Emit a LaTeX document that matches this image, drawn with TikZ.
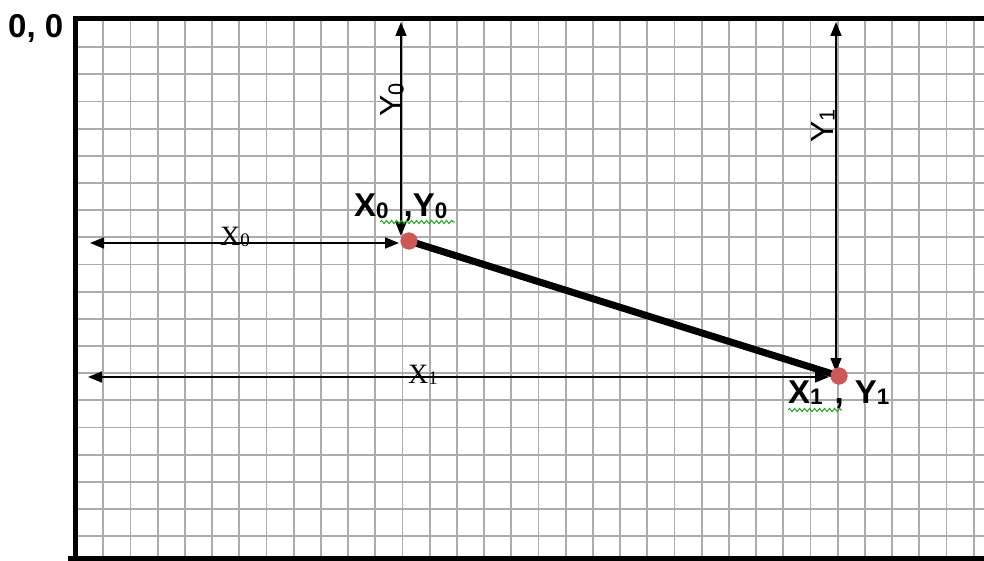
\documentclass[tikz,border=0pt]{standalone}
\usepackage{fontspec}
\usepackage{graphicx}
\setmainfont{Liberation Serif}
\setsansfont{Liberation Sans}
\usetikzlibrary{arrows.meta,decorations.pathmorphing}
\definecolor{gridgray}{RGB}{172,172,172}
\definecolor{dotred}{RGB}{205,88,88}
\definecolor{wavegreen}{RGB}{40,160,40}
\newcommand\sbs[1]{\raisebox{-1.5pt}{\scalebox{0.68}{#1}}}
\begin{document}
\begin{tikzpicture}[x=1pt,y=-1pt,
  gridline/.style={draw=gridgray,line width=1.8pt},
  frameline/.style={draw=black,line width=5pt},
  dimarrow/.style={draw=black,line width=1.6pt,{Triangle[length=14pt,width=11pt]}-{Triangle[length=14pt,width=11pt]}},
  segline/.style={draw=black,line width=7pt},
  ptdot/.style={circle,fill=dotred,minimum size=17pt,inner sep=0pt},
  boldlabel/.style={font=\fontsize{33}{36}\selectfont\sffamily\bfseries,inner sep=0pt},
  sanslabel/.style={font=\fontsize{32}{36}\selectfont\sffamily,inner sep=0pt,rotate=90,anchor=base west},
  seriflabel/.style={font=\fontsize{28}{32}\selectfont\rmfamily,inner sep=0pt,anchor=base west},
  spell/.style={draw=wavegreen,line width=1pt,decorate,decoration={snake,amplitude=1.6pt,segment length=5pt}}
]
\useasboundingbox (0,0) rectangle (984,561);
% grid
\foreach \k in {1,...,33} {\draw[gridline] (76+27.2*\k,20) -- (76+27.2*\k,557);}
\foreach \k in {1,...,19} {\draw[gridline] (76,20+27.17*\k) -- (984,20+27.17*\k);}
% frame
\coordinate (ftl) at (75.5,19);
\coordinate (ftr) at (984,19);
\coordinate (fbl) at (75.5,558);
\coordinate (fbr) at (984,558);
\coordinate (fbl2) at (68,558);
\draw[frameline] (ftr) -- (ftl) -- (fbl);
\draw[frameline] (fbl2) -- (fbr);
% dimension arrows
\coordinate (y0top) at (401,22);
\coordinate (y0bot) at (401,236);
\coordinate (x0left) at (90,243);
\coordinate (x0right) at (399,243);
\coordinate (y1top) at (836,22);
\coordinate (y1bot) at (836,372);
\coordinate (x1left) at (88,377);
\coordinate (x1right) at (829,377);
\draw[dimarrow] (y0top) -- (y0bot);
\draw[dimarrow] (x0left) -- (x0right);
\draw[dimarrow] (y1top) -- (y1bot);
\draw[dimarrow] (x1left) -- (x1right);
% points and segment
\node[ptdot] (p0) at (409,241) {};
\node[ptdot] (p1) at (839,376) {};
\draw[segline] (p0.center) -- (p1.center);
\node[ptdot] at (p0) {};
\node[ptdot] at (p1) {};
% labels
\node[boldlabel,anchor=base west] (origin) at (8,38) {0, 0};
\node[boldlabel,anchor=base west] (l0) at (354,217) {X\sbs{0}\hspace{15pt},Y\sbs{0}};
\node[boldlabel,anchor=base west] (l1) at (788,403) {X\sbs{1}\hspace{12pt},\hspace{11pt}Y\sbs{1}};
\node[sanslabel] (ly0) at (402,117) {Y\sbs{0}};
\node[sanslabel] (ly1) at (833,143) {Y\sbs{1}};
\node[seriflabel] (lx0) at (220,245) {X\sbs{0}};
\node[seriflabel] (lx1) at (408,383) {X\sbs{1}};
% spell-check underlines
\coordinate (w0a) at (380,222);
\coordinate (w0b) at (455,222);
\coordinate (w1a) at (788,410);
\coordinate (w1b) at (842,410);
\draw[spell] (w0a) -- (w0b);
\draw[spell] (w1a) -- (w1b);
\end{tikzpicture}
\end{document}
